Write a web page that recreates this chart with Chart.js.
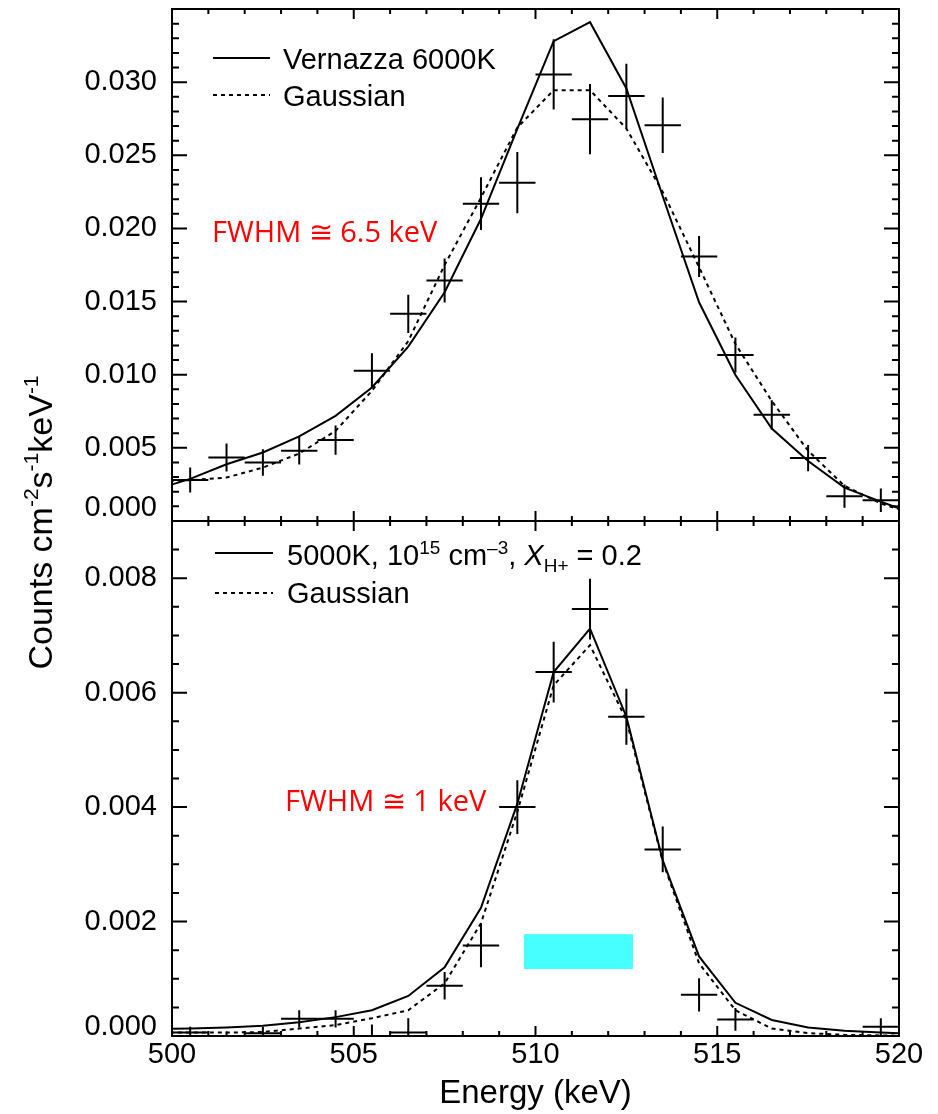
<!DOCTYPE html>
<html>
<head>
<meta charset="utf-8">
<script src="https://cdn.jsdelivr.net/npm/chart.js@4.4.0/dist/chart.umd.min.js"></script>
<style>
  html, body { margin: 0; padding: 0; background: #fff; }
  #wrap { width: 938px; height: 1114px; }
</style>
</head>
<body>
<div id="wrap"><canvas id="chart" width="938" height="1114"></canvas></div>
<script>
// Centros de los bins de energía (keV), 1 keV de ancho
const energies = [500.5, 501.5, 502.5, 503.5, 504.5, 505.5, 506.5, 507.5, 508.5, 509.5,
                  510.5, 511.5, 512.5, 513.5, 514.5, 515.5, 516.5, 517.5, 518.5, 519.5];
const binHalfWidth = 0.5;
// Los modelos siguen más allá de los bordes del eje
const modelEnergies = [499.5, 500.5, 501.5, 502.5, 503.5, 504.5, 505.5, 506.5, 507.5, 508.5, 509.5,
                       510.5, 511.5, 512.5, 513.5, 514.5, 515.5, 516.5, 517.5, 518.5, 519.5, 520.5];

// Panel superior
const topCounts = [0.0028, 0.00434, 0.0040, 0.0048, 0.00553, 0.01027, 0.01416, 0.01644, 0.02169, 0.02313,
                   0.03053, 0.02747, 0.02906, 0.02705, 0.01808, 0.01135, 0.00726, 0.0043, 0.0017, 0.00142];
const topErrors = [0.00086, 0.00096, 0.00091, 0.00094, 0.0010, 0.0012, 0.0013, 0.0015, 0.0018, 0.0021,
                   0.0024, 0.0024, 0.0022, 0.0019, 0.0014, 0.0012, 0.0010, 0.0009, 0.0008, 0.0008];
const topVernazza = [0.0021, 0.00288, 0.00388, 0.00468, 0.00578, 0.00719, 0.00913, 0.01192, 0.01564, 0.02066, 0.0268,
                     0.0328, 0.0341, 0.02957, 0.0222, 0.01495, 0.00998, 0.00632, 0.0041, 0.00228, 0.00132, 0.0004];
const topGaussian = [0.0027, 0.00279, 0.00297, 0.00365, 0.00461, 0.00616, 0.0089, 0.0123, 0.0175, 0.0221, 0.0269,
                     0.02945, 0.02945, 0.02683, 0.0225, 0.01735, 0.0121, 0.0082, 0.0048, 0.0024, 0.0012, 0.0004];

// Panel inferior (null = fuera del gráfico)
const botCounts = [0.00006, -0.00002, 0.00005, 0.0003, 0.0003, -0.0001, 0.00006, 0.00088, 0.00158, 0.0040,
                   0.00636, 0.00746, 0.00558, 0.00326, 0.00072, 0.00029, null, null, null, 0.00016];
const botErrors = [0.0001, 0.0001, 0.00011, 0.00015, 0.00015, 0.0003, 0.00025, 0.00024, 0.00038, 0.00047,
                   0.00053, 0.00053, 0.00049, 0.0004, 0.00029, 0.0002, 0, 0, 0, 0.00015];
const botModel = [0.00012, 0.00013, 0.00015, 0.00018, 0.00024, 0.00033, 0.00045, 0.0007, 0.0012, 0.00224, 0.00406,
                  0.00636, 0.00712, 0.00558, 0.00307, 0.00139, 0.00058, 0.00028, 0.00015, 0.00009, 0.00006, 0.00004];
const botGaussian = [0.00006, 0.00006, 0.00006, 0.00007, 0.00013, 0.00019, 0.00031, 0.00045, 0.00092, 0.00197, 0.00392,
                     0.00613, 0.00683, 0.00552, 0.00305, 0.00127, 0.00045, 0.00013, 0.00005, 0.00002, 0.00001, 0];

// Banda cian del panel inferior
const bandEnergy = [509.68, 512.68];
const bandCounts = [0.00117, 0.00178];

// Ticks
const xTickStep = 5, xMinorStep = 1;
const yTopTickStep = 0.005, yTopMinorStep = 0.001;
const yBotTickStep = 0.002, yBotMinorStep = 0.0005;

const TICK_FONT = { family: '"Liberation Sans", Arial, sans-serif', size: 29 };
const TITLE_FONT = { family: '"Liberation Sans", Arial, sans-serif', size: 33 };

function toXY(xs, ys) {
  return xs.map((x, i) => ({ x: x, y: ys[i] }));
}

function casiCero(v) {
  return Math.abs(v) < 1e-9;
}

// Dibuja texto por partes (superíndices, subíndices, cursiva)
function drawPieces(ctx, x, y, pieces) {
  let cx = x;
  pieces.forEach(p => {
    ctx.font = (p.italic ? 'italic ' : '') + p.size + 'px "Liberation Sans", Arial, sans-serif';
    ctx.fillText(p.t, cx, y + (p.dy || 0));
    cx += ctx.measureText(p.t).width;
  });
  return cx - x;
}

function piecesWidth(ctx, pieces) {
  let w = 0;
  pieces.forEach(p => {
    ctx.font = (p.italic ? 'italic ' : '') + p.size + 'px "Liberation Sans", Arial, sans-serif';
    w += ctx.measureText(p.t).width;
  });
  return w;
}

// Banda cian
const bandPlugin = {
  id: 'band',
  beforeDatasetsDraw(chart) {
    const ctx = chart.ctx, x = chart.scales.x, y = chart.scales.yBot;
    const x0 = x.getPixelForValue(bandEnergy[0]), x1 = x.getPixelForValue(bandEnergy[1]);
    const y0 = y.getPixelForValue(bandCounts[1]), y1 = y.getPixelForValue(bandCounts[0]);
    ctx.save();
    ctx.fillStyle = '#48ffff';
    ctx.fillRect(x0, y0, x1 - x0, y1 - y0);
    ctx.restore();
  }
};

// Cruces de error: ancho del bin y error vertical
const errorPlugin = {
  id: 'errores',
  afterDatasetsDraw(chart) {
    const ctx = chart.ctx, x = chart.scales.x, area = chart.chartArea;
    chart.data.datasets.forEach(ds => {
      if (!ds.errors) return;
      const y = chart.scales[ds.yAxisID];
      ctx.save();
      ctx.beginPath();
      ctx.rect(area.left, y.top, area.right - area.left, y.bottom - y.top);
      ctx.clip();
      ctx.strokeStyle = '#000';
      ctx.lineWidth = 2;
      ds.data.forEach((p, i) => {
        if (p.y === null) return;
        const px = x.getPixelForValue(p.x), py = y.getPixelForValue(p.y);
        ctx.beginPath();
        ctx.moveTo(x.getPixelForValue(p.x - binHalfWidth), py);
        ctx.lineTo(x.getPixelForValue(p.x + binHalfWidth), py);
        ctx.moveTo(px, y.getPixelForValue(p.y - ds.errors[i]));
        ctx.lineTo(px, y.getPixelForValue(p.y + ds.errors[i]));
        ctx.stroke();
      });
      ctx.restore();
    });
  }
};

// Marco estilo IDL con ticks hacia adentro
const framePlugin = {
  id: 'marco',
  afterDraw(chart) {
    const ctx = chart.ctx, x = chart.scales.x, a = chart.chartArea;
    ctx.save();
    ctx.strokeStyle = '#000';
    ctx.lineWidth = 2;
    [['yTop', yTopMinorStep], ['yBot', yBotMinorStep]].forEach(([id, minor]) => {
      const y = chart.scales[id];
      ctx.strokeRect(a.left, y.top, a.right - a.left, y.bottom - y.top);
      ctx.beginPath();
      const ny = Math.round((y.max - y.min) / minor);
      for (let k = 1; k < ny; k++) {
        const v = y.min + k * minor;
        const major = y.ticks.some(t => Math.abs(t.value - v) < 1e-9);
        const len = major ? 15 : 7;
        const py = y.getPixelForValue(v);
        ctx.moveTo(a.left, py); ctx.lineTo(a.left + len, py);
        ctx.moveTo(a.right, py); ctx.lineTo(a.right - len, py);
      }
      const nx = Math.round((x.max - x.min) / xMinorStep);
      for (let k = 1; k < nx; k++) {
        const v = x.min + k * xMinorStep;
        const major = x.ticks.some(t => Math.abs(t.value - v) < 1e-9);
        const len = major ? 10 : 5;
        const px = x.getPixelForValue(v);
        ctx.moveTo(px, y.top); ctx.lineTo(px, y.top + len);
        ctx.moveTo(px, y.bottom); ctx.lineTo(px, y.bottom - len);
      }
      ctx.stroke();
    });

    // Etiquetas 0.000 levantadas como en el original
    ctx.fillStyle = '#000';
    ctx.font = TICK_FONT.size + 'px ' + TICK_FONT.family;
    ctx.textAlign = 'right';
    ctx.textBaseline = 'middle';
    ctx.fillText('0.000', a.left - 15, chart.scales.yTop.getPixelForValue(0) - 13);
    ctx.fillText('0.000', a.left - 15, chart.scales.yBot.getPixelForValue(0) - 9);
    ctx.restore();
  }
};

// Leyendas, textos FWHM y título del eje y
const textPlugin = {
  id: 'textos',
  afterDraw(chart) {
    const ctx = chart.ctx;
    ctx.save();
    ctx.fillStyle = '#000';
    ctx.strokeStyle = '#000';
    ctx.lineWidth = 2;
    ctx.textAlign = 'left';
    ctx.textBaseline = 'alphabetic';

    function muestra(x0, x1, y, dashed) {
      ctx.beginPath();
      ctx.setLineDash(dashed ? [4, 4] : []);
      ctx.moveTo(x0, y); ctx.lineTo(x1, y);
      ctx.stroke();
      ctx.setLineDash([]);
    }

    // Leyenda superior
    muestra(213, 270, 58, false);
    drawPieces(ctx, 283, 69, [{ t: 'Vernazza 6000K', size: 29 }]);
    muestra(213, 270, 95, true);
    drawPieces(ctx, 283, 106, [{ t: 'Gaussian', size: 29 }]);

    // Leyenda inferior
    muestra(215, 273, 553, false);
    drawPieces(ctx, 287, 565, [
      { t: '5000K, 10', size: 29 },
      { t: '15', size: 19, dy: -11 },
      { t: ' cm', size: 29 },
      { t: '\u20133', size: 19, dy: -11 },
      { t: ', ', size: 29 },
      { t: 'X', size: 29, italic: true },
      { t: 'H+', size: 19, dy: 7 },
      { t: ' = 0.2', size: 29 }
    ]);
    muestra(215, 273, 593, true);
    drawPieces(ctx, 287, 603, [{ t: 'Gaussian', size: 29 }]);

    // Textos FWHM en rojo
    ctx.fillStyle = '#ff0000';
    ctx.font = '29px "Open Sans", "Noto Sans", sans-serif';
    ctx.fillText('FWHM \u2245 6.5 keV', 212, 242);
    ctx.fillText('FWHM \u2245 1 keV', 285, 811);

    // Título del eje y con superíndices
    ctx.fillStyle = '#000';
    const titulo = [
      { t: 'Counts cm', size: 34 },
      { t: '-2', size: 21, dy: -14 },
      { t: 's', size: 34 },
      { t: '-1', size: 21, dy: -14 },
      { t: 'keV', size: 34 },
      { t: '-1', size: 21, dy: -14 }
    ];
    const a = chart.chartArea;
    ctx.translate(52, (a.top + a.bottom) / 2);
    ctx.rotate(-Math.PI / 2);
    drawPieces(ctx, -piecesWidth(ctx, titulo) / 2, 0, titulo);
    ctx.restore();
  }
};

const ctx = document.getElementById('chart').getContext('2d');

new Chart(ctx, {
  type: 'line',
  data: {
    datasets: [
      { label: 'Vernazza 6000K', data: toXY(modelEnergies, topVernazza), yAxisID: 'yTop',
        borderColor: '#000', borderWidth: 2, pointRadius: 0, tension: 0 },
      { label: 'Gaussian', data: toXY(modelEnergies, topGaussian), yAxisID: 'yTop',
        borderColor: '#000', borderWidth: 2, borderDash: [4, 4], pointRadius: 0, tension: 0 },
      { label: 'Datos', type: 'scatter', data: toXY(energies, topCounts), errors: topErrors,
        yAxisID: 'yTop', pointRadius: 0 },
      { label: '5000K', data: toXY(modelEnergies, botModel), yAxisID: 'yBot',
        borderColor: '#000', borderWidth: 2, pointRadius: 0, tension: 0 },
      { label: 'Gaussian', data: toXY(modelEnergies, botGaussian), yAxisID: 'yBot',
        borderColor: '#000', borderWidth: 2, borderDash: [4, 4], pointRadius: 0, tension: 0 },
      { label: 'Datos', type: 'scatter', data: toXY(energies, botCounts), errors: botErrors,
        yAxisID: 'yBot', pointRadius: 0 }
    ]
  },
  options: {
    responsive: false,
    animation: false,
    layout: { padding: { left: 0, right: 39, top: 9, bottom: 0 } },
    plugins: { legend: { display: false }, tooltip: { enabled: false } },
    scales: {
      x: {
        type: 'linear', position: 'bottom', min: 500, max: 520,
        ticks: { stepSize: xTickStep, font: TICK_FONT, color: '#000', padding: 2, maxRotation: 0 },
        grid: { display: false, drawTicks: false },
        border: { display: false },
        title: { display: true, text: 'Energy (keV)', font: TITLE_FONT, color: '#000', padding: 0 },
        afterFit: s => { s.height = 78; s.paddingLeft = 0; s.paddingRight = 0; }
      },
      yBot: {
        type: 'linear', position: 'left', stack: 'paneles', stackWeight: 515,
        min: 0, max: 0.009,
        ticks: {
          stepSize: yBotTickStep, includeBounds: false, font: TICK_FONT, color: '#000', padding: 15,
          callback: v => casiCero(v) ? '' : v.toFixed(3)
        },
        grid: { display: false, drawTicks: false },
        border: { display: false },
        afterFit: s => { s.width = 172; s.paddingTop = 0; s.paddingBottom = 0; }
      },
      yTop: {
        type: 'linear', position: 'left', stack: 'paneles', stackWeight: 512,
        min: 0, max: 0.035,
        ticks: {
          stepSize: yTopTickStep, includeBounds: false, font: TICK_FONT, color: '#000', padding: 15,
          callback: v => (casiCero(v) || casiCero(v - 0.035)) ? '' : v.toFixed(3)
        },
        grid: { display: false, drawTicks: false },
        border: { display: false },
        afterFit: s => { s.width = 172; s.paddingTop = 0; s.paddingBottom = 0; }
      }
    }
  },
  plugins: [bandPlugin, errorPlugin, framePlugin, textPlugin]
});
</script>
</body>
</html>
